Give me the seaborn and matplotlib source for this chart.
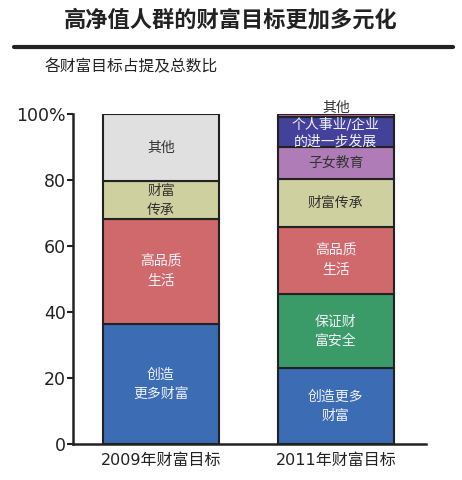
import matplotlib
matplotlib.use("Agg")
import matplotlib.pyplot as plt
import seaborn as sns
from matplotlib.lines import Line2D

# === Data ===
years = ["2009年财富目标", "2011年财富目标"]

seg_2009 = ["创造更多财富", "高品质生活", "财富传承", "其他"]
val_2009 = [36.4, 31.8, 11.4, 20.4]
lbl_2009 = ["创造\n更多财富", "高品质\n生活", "财富\n传承", "其他"]

seg_2011 = ["创造更多财富", "保证财富安全", "高品质生活", "财富传承",
            "子女教育", "个人事业/企业的进一步发展", "其他"]
val_2011 = [22.9, 22.5, 20.5, 14.5, 9.5, 9.3, 0.8]
lbl_2011 = ["创造更多\n财富", "保证财\n富安全", "高品质\n生活", "财富传承",
            "子女教育", "个人事业/企业\n的进一步发展", "其他"]

colors = {
    "创造更多财富": "#3b6cb4",
    "保证财富安全": "#3a9a68",
    "高品质生活": "#d0696b",
    "财富传承": "#cfd09f",
    "子女教育": "#b07cb8",
    "个人事业/企业的进一步发展": "#43419a",
    "其他": "#e0e0e0",
}
dark_text = {"财富传承", "子女教育", "其他"}

sns.set_style("white")
plt.rcParams['font.family'] = ['DejaVu Sans', 'Noto Sans CJK SC']

fig = plt.figure(figsize=(4.62, 4.8), dpi=100)
ax = fig.add_axes([0.158, 0.075, 0.763, 0.6875])

ink = "#222222"

# === Stacked bars ===
for year, segs, vals, lbls in [(years[0], seg_2009, val_2009, lbl_2009),
                               (years[1], seg_2011, val_2011, lbl_2011)]:
    bottom = 0
    for seg, v, lab in zip(segs, vals, lbls):
        col = colors[seg]
        if year == years[1] and seg == "其他":
            col = "#b86aa8"
        sns.barplot(x=[year], y=[v], bottom=[bottom], order=years, color=col,
                    width=0.666, edgecolor=ink, linewidth=1.5, saturation=1,
                    ax=ax)
        xi = years.index(year)
        tc = "#333333" if seg in dark_text else "#f2f2f8"
        ty = bottom + v / 2
        ls = 1.45
        if year == years[1] and seg == "其他":
            ty = 102.0
        if seg == "个人事业/企业的进一步发展":
            ty -= 0.4
            ls = 1.3
        ax.text(xi, ty, lab, ha="center", va="center", fontsize=10,
                color=tc, linespacing=ls, clip_on=False)
        bottom += v

ax.set_ylim(0, 100)
ax.set_xlim(-0.503, 1.513)
ax.set_yticks([0, 20, 40, 60, 80, 100])
ax.set_yticklabels(["0", "20", "40", "60", "80", "100%"])
ax.set_xlabel("")
ax.set_ylabel("")
ax.tick_params(axis="y", left=True, length=4, width=1.5, color=ink,
               labelsize=12.5, labelcolor=ink, pad=1)
ax.tick_params(axis="x", bottom=False, labelsize=11.5, labelcolor=ink, pad=3)
sns.despine(ax=ax)
for s in ["left", "bottom"]:
    ax.spines[s].set_linewidth(1.8)
    ax.spines[s].set_color(ink)

# === Title, rule and subtitle ===
fig.text(0.5, 1 - 20 / 480, "高净值人群的财富目标更加多元化", ha="center",
         va="center", fontsize=16, fontweight="bold", color=ink)
fig.add_artist(Line2D([14 / 462, 453 / 462], [1 - 47 / 480, 1 - 47 / 480],
                      color=ink, linewidth=3))
fig.text(45 / 462, 1 - 67 / 480, "各财富目标占提及总数比", ha="left",
         va="center", fontsize=11.3, color=ink)

fig.savefig("out.png", dpi=100)
